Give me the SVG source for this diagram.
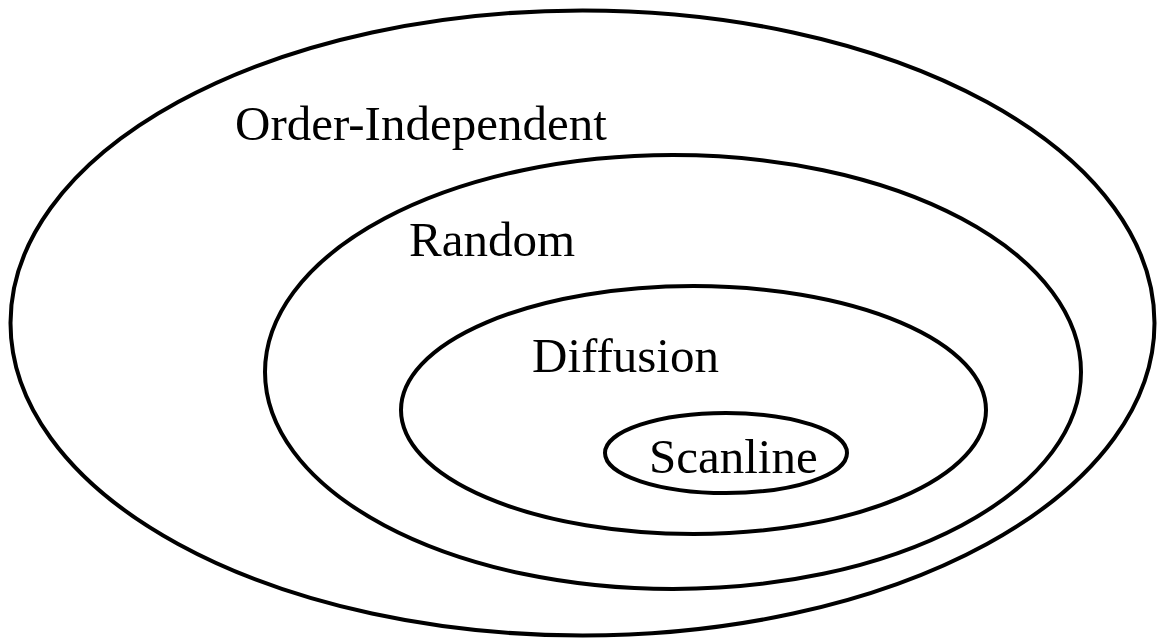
<svg xmlns="http://www.w3.org/2000/svg" width="1158" height="639" viewBox="0 0 1158 639">
<style>
.e{fill:none;stroke:#000;stroke-width:4}
.t{font-family:"Liberation Serif","Times New Roman",serif;font-size:49px;fill:#000}
</style>
<rect width="1158" height="639" fill="#fff"/>
<g id="order-independent">
<ellipse class="e" cx="582.5" cy="323" rx="572" ry="312.5"/>
<text class="t" x="235" y="140">Order-Independent</text>
</g>
<g id="random">
<ellipse class="e" cx="673" cy="372" rx="408" ry="217"/>
<text class="t" x="409" y="256">Random</text>
</g>
<g id="diffusion">
<ellipse class="e" cx="693.5" cy="410" rx="292.5" ry="124"/>
<text class="t" x="532" y="372">Diffusion</text>
</g>
<g id="scanline">
<ellipse class="e" cx="726" cy="453" rx="121" ry="40"/>
<text class="t" x="649" y="473">Scanline</text>
</g>
<g id="connectors"/>
</svg>
